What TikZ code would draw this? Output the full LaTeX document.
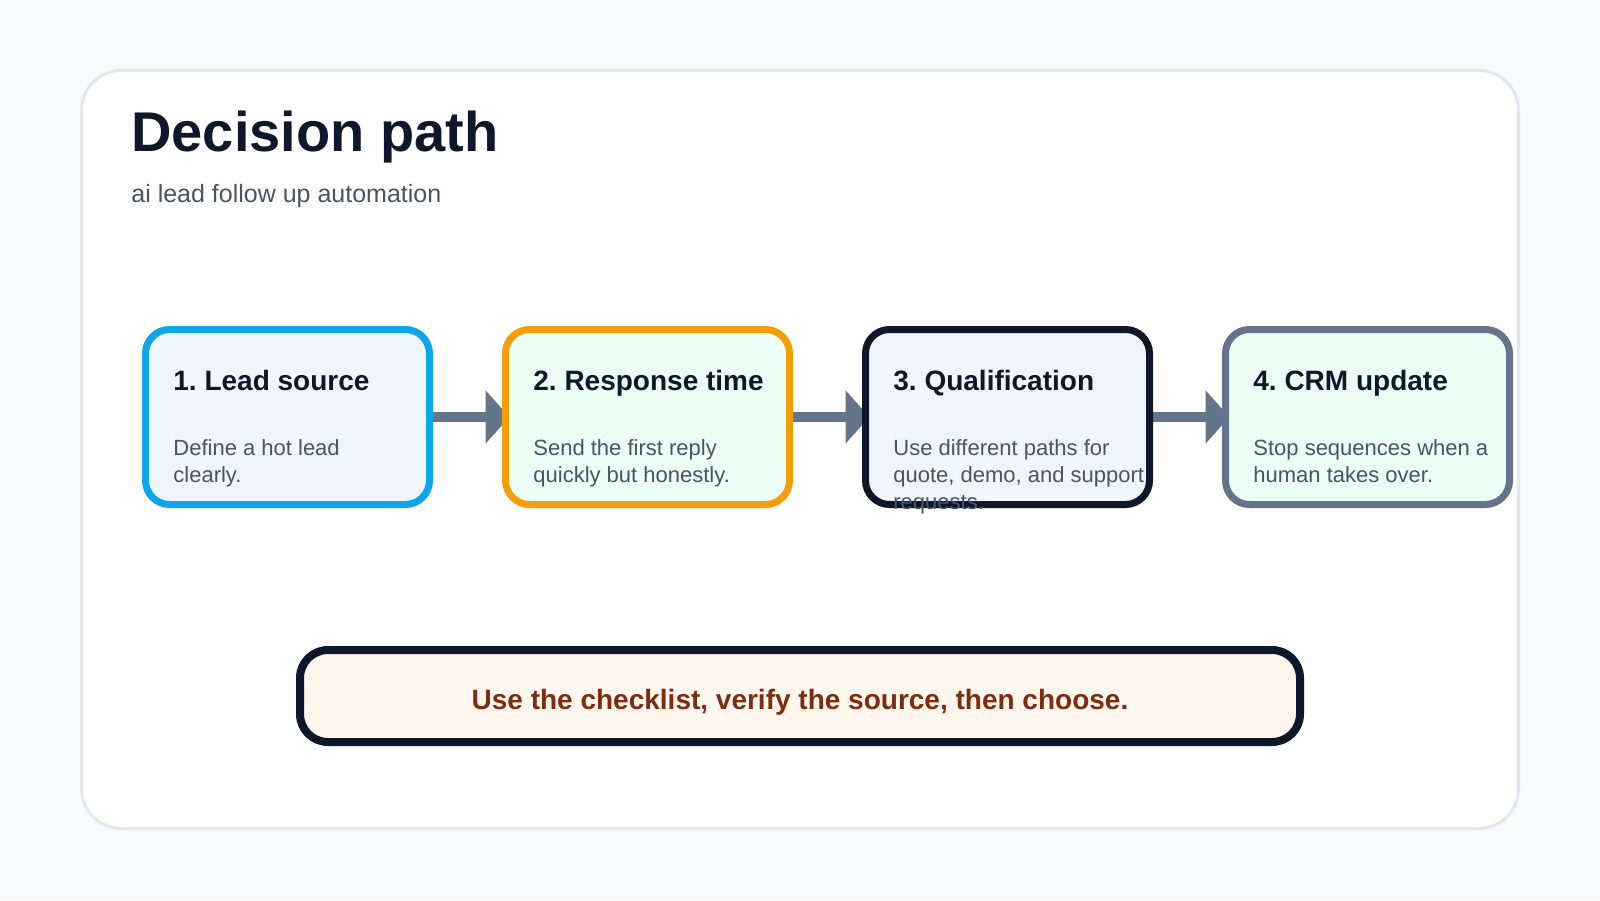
\documentclass[tikz,border=0pt]{standalone}
\usepackage{fontspec}
\setmainfont{Liberation Sans}
\usetikzlibrary{arrows.meta}
\frenchspacing
\pgfdeclarelayer{back}
\pgfdeclarelayer{arrows}
\pgfsetlayers{back,arrows,main}
\definecolor{pagebg}{HTML}{F8FAFC}
\definecolor{cardline}{HTML}{E2E8F0}
\definecolor{ink}{HTML}{0F172A}
\definecolor{muted}{HTML}{475569}
\definecolor{slate}{HTML}{64748B}
\definecolor{sky}{HTML}{0EA5E9}
\definecolor{amber}{HTML}{F59E0B}
\definecolor{bluefill}{HTML}{EFF6FF}
\definecolor{greenfill}{HTML}{ECFDF5}
\definecolor{creamfill}{HTML}{FFF7ED}
\definecolor{rust}{HTML}{7C2D12}
\tikzset{
  maintitle/.style={anchor=base west, inner sep=0pt, text=ink, font=\fontsize{28}{34}\selectfont\bfseries},
  subtitle/.style={anchor=base west, inner sep=0pt, text=muted, font=\fontsize{12.5}{15}\selectfont},
  stepbox/.style={draw, line width=3.5pt, rounded corners=12pt, minimum width=142pt, minimum height=87.5pt, outer sep=0pt, inner sep=0pt},
  boxtitle/.style={anchor=base west, inner sep=0pt, text=ink, font=\fontsize{14}{17}\selectfont\bfseries},
  boxdesc/.style={anchor=base west, inner sep=0pt, text=muted, font=\fontsize{11}{13.5}\selectfont},
  flow/.style={draw=slate, line width=5pt, line cap=round, -{Triangle[length=12pt,width=26pt]}},
  banner/.style={draw=ink, fill=creamfill, line width=4pt, rounded corners=14pt, minimum width=500pt, minimum height=46pt, outer sep=0pt, inner sep=0pt},
  bannertext/.style={anchor=base, inner sep=0pt, text=rust, font=\fontsize{14}{17}\selectfont\bfseries}
}
\begin{document}
\begin{tikzpicture}[x=0.5pt,y=-0.5pt]
\useasboundingbox (0,0) rectangle (1600,900);
\begin{pgfonlayer}{back}
\fill[pagebg] (0,0) rectangle (1600,900);
\draw[cardline, fill=white, line width=1.5pt, rounded corners=20pt] (81.5,70.5) rectangle (1518.5,828.5);
\end{pgfonlayer}

\node[maintitle] (title) at (131,151) {Decision path};
\node[subtitle] (sub) at (131,202) {ai lead follow up automation};

\node[stepbox, draw=sky, fill=bluefill] (b1) at (287.5,417) {};
\node[stepbox, draw=amber, fill=greenfill] (b2) at (647.5,417) {};
\node[stepbox, draw=ink, fill=bluefill] (b3) at (1007.5,417) {};
\node[stepbox, draw=slate, fill=greenfill] (b4) at (1367.5,417) {};

\begin{pgfonlayer}{arrows}
\draw[flow] (b1.east) -- ([xshift=2pt]b2.west);
\draw[flow] (b2.east) -- ([xshift=2pt]b3.west);
\draw[flow] (b3.east) -- ([xshift=2pt]b4.west);
\end{pgfonlayer}

\node[boxtitle] (t1) at (173,390) {1. Lead source};
\node[boxdesc] (d1a) at (173,455) {Define a hot lead};
\node[boxdesc] (d1b) at (173,482) {clearly.};

\node[boxtitle] (t2) at (533,390) {2. Response time};
\node[boxdesc] (d2a) at (533,455) {Send the first reply};
\node[boxdesc] (d2b) at (533,482) {quickly but honestly.};

\node[boxtitle] (t3) at (893,390) {3. Qualification};
\node[boxdesc] (d3a) at (893,455) {Use different paths for};
\node[boxdesc] (d3b) at (893,482) {quote, demo, and support};
\node[boxdesc] (d3c) at (893,509) {requests.};

\node[boxtitle] (t4) at (1253,390) {4. CRM update};
\node[boxdesc] (d4a) at (1253,455) {Stop sequences when a};
\node[boxdesc] (d4b) at (1253,482) {human takes over.};

\node[banner] (note) at (800,696) {};
\node[bannertext] (notetext) at (800,709) {Use the checklist, verify the source, then choose.};
\end{tikzpicture}
\end{document}
